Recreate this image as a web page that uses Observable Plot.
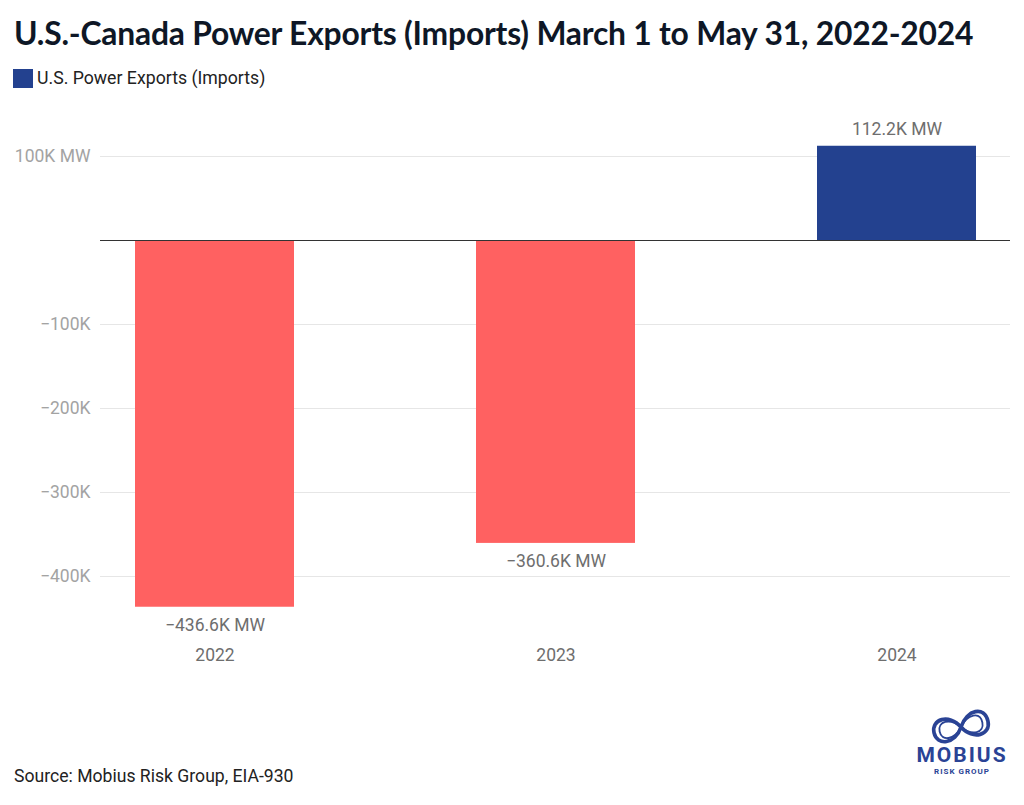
<!DOCTYPE html>
<html>
<head>
<meta charset="utf-8">
<script src="https://cdn.jsdelivr.net/npm/d3@7"></script>
<script src="https://cdn.jsdelivr.net/npm/@observablehq/plot@0.6"></script>
<style>
  html, body { margin: 0; padding: 0; background: #fff; }
  body { width: 1024px; height: 805px; position: relative; overflow: hidden; font-family: Roboto, "Noto Sans", sans-serif; }
  #title { position: absolute; left: 14px; top: 14px; font-family: Lato, sans-serif; font-weight: 700; font-size: 31.8px; color: #0e1726; white-space: nowrap; letter-spacing: -0.2px; }
  #legend { position: absolute; left: 13px; top: 68px; display: flex; align-items: center; font-size: 17.7px; color: #222; }
  #legend .sw { width: 20px; height: 19px; background: #23418f; margin-right: 4px; }
  #chart { position: absolute; left: 0; top: 100px; }
  #source { position: absolute; left: 14px; top: 766px; font-size: 17.6px; color: #222; }
  #logo { position: absolute; left: 905px; top: 703px; }
</style>
</head>
<body>
<div id="title">U.S.-Canada Power Exports (Imports) March 1 to May 31, 2022-2024</div>
<div id="legend"><div class="sw"></div><span>U.S. Power Exports (Imports)</span></div>
<div id="chart"></div>
<div id="source">Source: Mobius Risk Group, EIA-930</div>
<svg id="logo" width="115" height="78" viewBox="0 0 115 78">
  <g fill="none" stroke="#2a4395" transform="translate(56,24) rotate(-12) scale(1.15) translate(-38,-22)">
    <path d="M38,22 C30,8 14,10 14,22 C14,34 30,36 38,22 C46,8 62,8 62,22 C62,34 46,36 38,22" stroke-width="3.2"/>
    <path d="M38,22 C30,12 19,13 19,22 C19,31 30,32 38,22 C46,12 57,12 57,22 C57,31 46,32 38,22" stroke-width="1.6"/>
  </g>
  <text x="57" y="59" text-anchor="middle" font-family="Roboto, sans-serif" font-weight="700" font-size="21" letter-spacing="2" fill="#2a4395">MOBIUS</text>
  <text x="57" y="71" text-anchor="middle" font-family="Roboto, sans-serif" font-weight="700" font-size="8" letter-spacing="1" fill="#2a4395">RISK GROUP</text>
</svg>
<script>
// Net U.S. power exports to Canada (negative = imports), March 1 – May 31
const years = ["2022", "2023", "2024"];
const exportsMW = [-436600, -360600, 112200];
const yTicks = [100000, -100000, -200000, -300000, -400000];

const rows = years.map((year, i) => ({year, value: exportsMW[i]}));

const minus = "\u2212";
const fmtBar = v => (v < 0 ? minus : "") + (Math.abs(v) / 1000).toFixed(1) + "K MW";
const fmtTick = v => (v < 0 ? minus : "") + Math.abs(v) / 1000 + "K" + (v === 100000 ? " MW" : "");

const chart = Plot.plot({
  width: 1024,
  height: 590,
  marginTop: 14,
  marginBottom: 55.2,
  marginLeft: 100,
  marginRight: 14,
  style: {fontFamily: "Roboto, sans-serif", fontSize: "17.5px", background: "transparent"},
  x: {domain: years, paddingInner: 0.534, paddingOuter: 0.1, axis: null},
  y: {domain: [-470000, 150000], axis: null},
  marks: [
    Plot.ruleY(yTicks, {stroke: "#e6e6e6", strokeWidth: 1}),
    Plot.barY(rows, {
      x: "year",
      y: "value",
      fill: d => d.value < 0 ? "#ff6161" : "#23418f"
    }),
    Plot.ruleY([0], {stroke: "#333", strokeWidth: 1}),
    Plot.axisY(yTicks, {
      tickSize: 0,
      tickPadding: 10,
      tickFormat: fmtTick,
      fontSize: 17.5,
      color: "#a3a3a3",
      label: null
    }),
    Plot.axisX({
      tickSize: 0,
      tickPadding: 13,
      fontSize: 17.5,
      color: "#6e6e6e",
      label: null
    }),
    Plot.text(rows.filter(d => d.value >= 0), {
      x: "year", y: "value", text: d => fmtBar(d.value),
      lineAnchor: "middle", dy: -17, fill: "#6e6e6e", fontSize: 17.5
    }),
    Plot.text(rows.filter(d => d.value < 0), {
      x: "year", y: "value", text: d => fmtBar(d.value),
      lineAnchor: "middle", dy: 18, fill: "#6e6e6e", fontSize: 17.5
    })
  ]
});

document.getElementById("chart").appendChild(chart);
</script>
</body>
</html>
